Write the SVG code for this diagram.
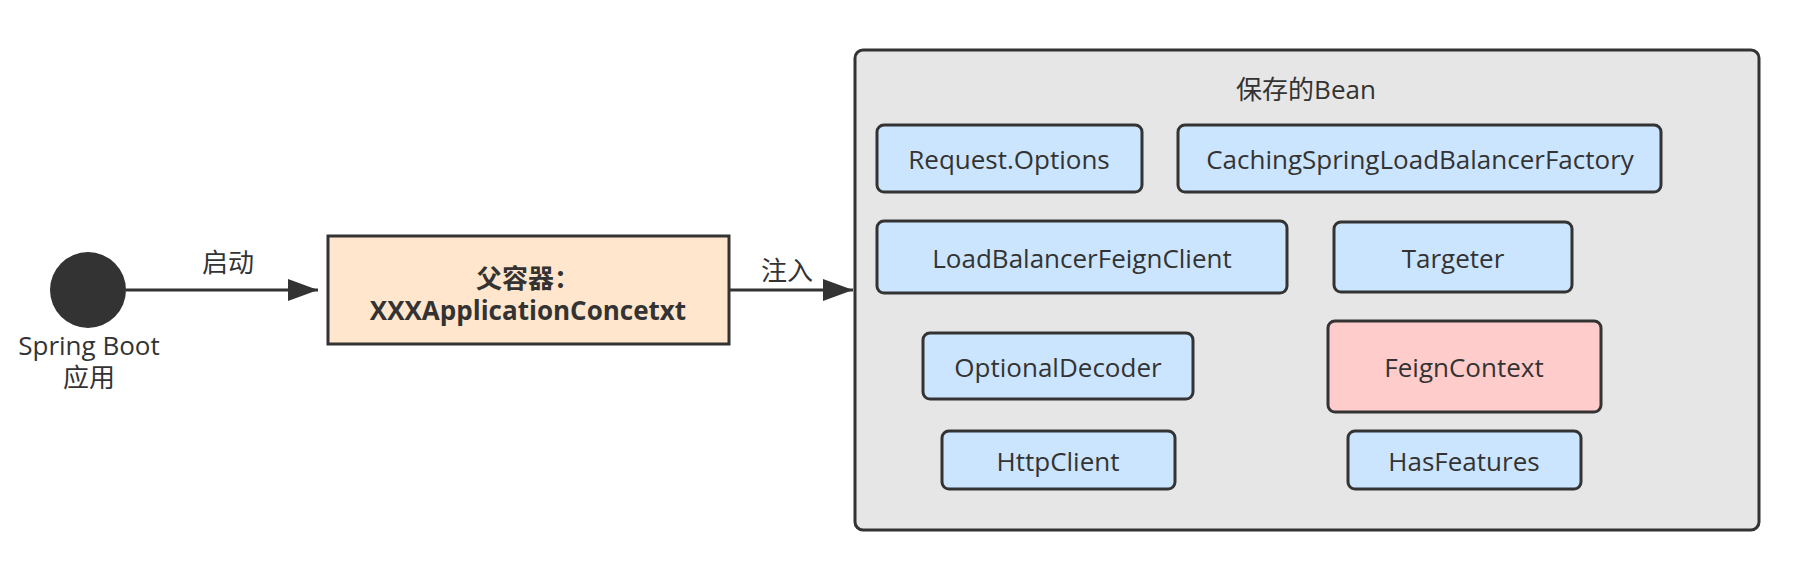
<svg xmlns="http://www.w3.org/2000/svg" width="1808" height="580" viewBox="0 0 1808 580">
<style>
text{font-family:"Open Sans","Noto Sans CJK SC",sans-serif;font-size:26px;fill:#333333;text-anchor:middle}
.bean{fill:#cce5ff;stroke:#333333;stroke-width:3}
.red{fill:#ffcccc;stroke:#333333;stroke-width:3}
.edge{stroke:#333333;stroke-width:3;fill:none}
</style>
<defs>
<marker id="arr" markerUnits="userSpaceOnUse" markerWidth="32" markerHeight="24" refX="30" refY="12" orient="auto">
<path d="M0,1 L30,12 L0,23 Z" fill="#333333"/>
</marker>
</defs>
<rect width="1808" height="580" fill="#ffffff"/>
<g id="start">
<circle cx="88" cy="290" r="38" fill="#333333"/>
<text x="89" y="355">Spring Boot</text>
<text x="89" y="387">应用</text>
</g>
<g id="parent">
<rect x="328" y="236" width="401" height="108" fill="#ffe6cc" stroke="#333333" stroke-width="3"/>
<text x="528" y="288" style="font-weight:bold">父容器：</text>
<text x="528" y="320" style="font-weight:bold">XXXApplicationConcetxt</text>
</g>
<g id="container">
<rect x="855" y="50" width="904" height="480" rx="8" fill="#e6e6e6" stroke="#333333" stroke-width="3"/>
<text x="1306" y="99">保存的Bean</text>
</g>
<g id="n1"><rect class="bean" x="877" y="125" width="265" height="67" rx="7"/><text x="1009" y="169">Request.Options</text></g>
<g id="n2"><rect class="bean" x="1178" y="125" width="483" height="67" rx="7"/><text x="1420" y="169">CachingSpringLoadBalancerFactory</text></g>
<g id="n3"><rect class="bean" x="877" y="221" width="410" height="72" rx="7"/><text x="1082" y="268">LoadBalancerFeignClient</text></g>
<g id="n4"><rect class="bean" x="1334" y="222" width="238" height="70" rx="7"/><text x="1453" y="268">Targeter</text></g>
<g id="n5"><rect class="bean" x="923" y="333" width="270" height="66" rx="7"/><text x="1058" y="377">OptionalDecoder</text></g>
<g id="n6"><rect class="red" x="1328" y="321" width="273" height="91" rx="7"/><text x="1464" y="377">FeignContext</text></g>
<g id="n7"><rect class="bean" x="942" y="431" width="233" height="58" rx="7"/><text x="1058" y="471">HttpClient</text></g>
<g id="n8"><rect class="bean" x="1348" y="431" width="233" height="58" rx="7"/><text x="1464" y="471">HasFeatures</text></g>
<g id="connectors">
<line class="edge" x1="126" y1="290" x2="318" y2="290" marker-end="url(#arr)"/>
<text x="228" y="272">启动</text>
<line class="edge" x1="729" y1="290" x2="853" y2="290" marker-end="url(#arr)"/>
<text x="787" y="280">注入</text>
</g>
</svg>
